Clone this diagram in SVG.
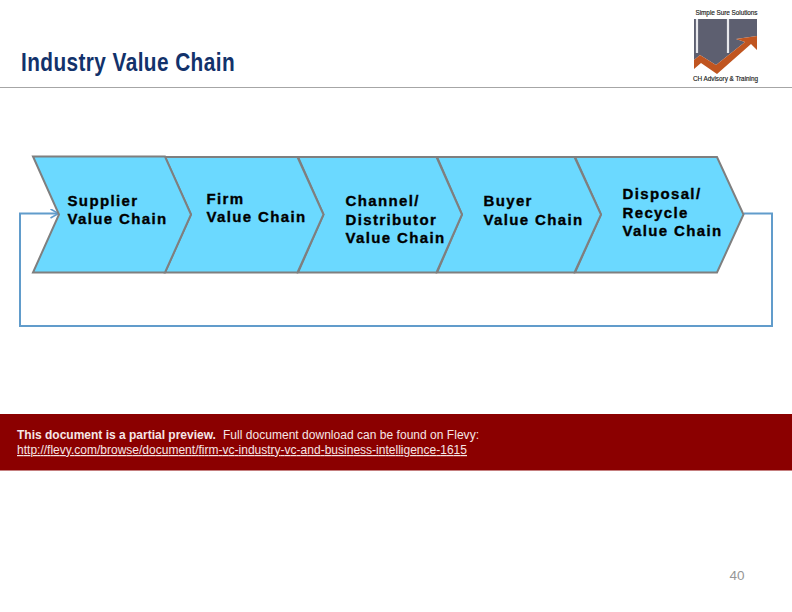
<svg xmlns="http://www.w3.org/2000/svg" width="792" height="612" viewBox="0 0 792 612">
<style>
text{font-family:"Liberation Sans",Arial,sans-serif}
.ch{fill:#6bd9ff;stroke:#7f7f7f;stroke-width:2;stroke-linejoin:miter}
.lb{font-size:15px;font-weight:bold;fill:#000;stroke:#000;stroke-width:.35px;letter-spacing:1.36px}
.cn{fill:none;stroke:#619ccb;stroke-width:2}
.ban{font-size:12px;fill:#f6e6e6}
.lg{font-size:6.4px;fill:#222;stroke:#222;stroke-width:.15px}
</style>
<defs><marker id="arr" markerWidth="12" markerHeight="12" refX="9" refY="5" orient="auto" markerUnits="userSpaceOnUse"><path d="M1 0.5L9 5L1 9.5" fill="none" stroke="#619ccb" stroke-width="1.6"/></marker></defs>
<rect width="792" height="612" fill="#fff"/>
<text transform="translate(21 71) scale(.8 1)" font-size="26" font-weight="bold" fill="#12326b" textLength="267" lengthAdjust="spacing">Industry Value Chain</text>
<rect x="0" y="87" width="792" height="1" fill="#a6a6a6"/>
<g id="logo">
<path d="M694 19H757V36L736 39L745 42L716 65L700 55L694 60Z" fill="#5d5f70"/>
<path d="M697 19V53M728 19V53" stroke="#e8e8ec" stroke-width="2.200" fill="none"/>
<path d="M694 60L700 55L716 65L745 42L736 39L757 36V50L751 44L717 74L701 63L694 69Z" fill="#c05520"/>
<text class="lg" x="695.500" y="15" textLength="62">Simple Sure Solutions</text>
<text class="lg" x="693" y="80.500" textLength="65">CH Advisory &amp; Training</text>
</g>
<g id="connectors">
<path class="cn" d="M744 213.500H772V326H20V213.500H58.500" marker-end="url(#arr)"/>
</g>
<g id="node-disposal">
<path class="ch" d="M575 157H717L743.500 214.500L717 272.500H575L601 214.500Z"/>
<text class="lb"><tspan x="622.500" y="199">Disposal/</tspan><tspan x="622.500" y="217.500">Recycle</tspan><tspan x="622.500" y="236">Value Chain</tspan></text>
</g>
<g id="node-buyer">
<path class="ch" d="M437 157H574.500L601 214.500L574.500 272.500H437L462 214.500Z"/>
<text class="lb"><tspan x="483.500" y="205.500">Buyer</tspan><tspan x="483.500" y="224.500">Value Chain</tspan></text>
</g>
<g id="node-channel">
<path class="ch" d="M298 157H436.500L462 214.500L436.500 272.500H298L323.500 214.500Z"/>
<text class="lb"><tspan x="345.500" y="206">Channel/</tspan><tspan x="345.500" y="224.500">Distributor</tspan><tspan x="345.500" y="242.500">Value Chain</tspan></text>
</g>
<g id="node-firm">
<path class="ch" d="M165 157H297.500L323.500 214.500L297.500 272.500H165L191 214.500Z"/>
<text class="lb"><tspan x="206.500" y="203.500">Firm</tspan><tspan x="206.500" y="221.500">Value Chain</tspan></text>
</g>
<g id="node-supplier">
<path class="ch" d="M33 156.500H165L191 214.500L165 272.500H33L59 214.500Z"/>
<text class="lb"><tspan x="67.500" y="206">Supplier</tspan><tspan x="67.500" y="224">Value Chain</tspan></text>
</g>
<g id="preview-banner">
<rect x="0" y="414" width="792" height="56.500" fill="#8b0000"/>
<text class="ban" x="17" y="439"><tspan font-weight="bold">This document is a partial preview.</tspan><tspan x="223" textLength="256">Full document download can be found on Flevy:</tspan></text>
<text class="ban" x="17" y="454" text-decoration="underline" textLength="450">http://flevy.com/browse/document/firm-vc-industry-vc-and-business-intelligence-1615</text>
</g>
<text x="729.500" y="580" font-size="13.500" fill="#969696">40</text>
</svg>
